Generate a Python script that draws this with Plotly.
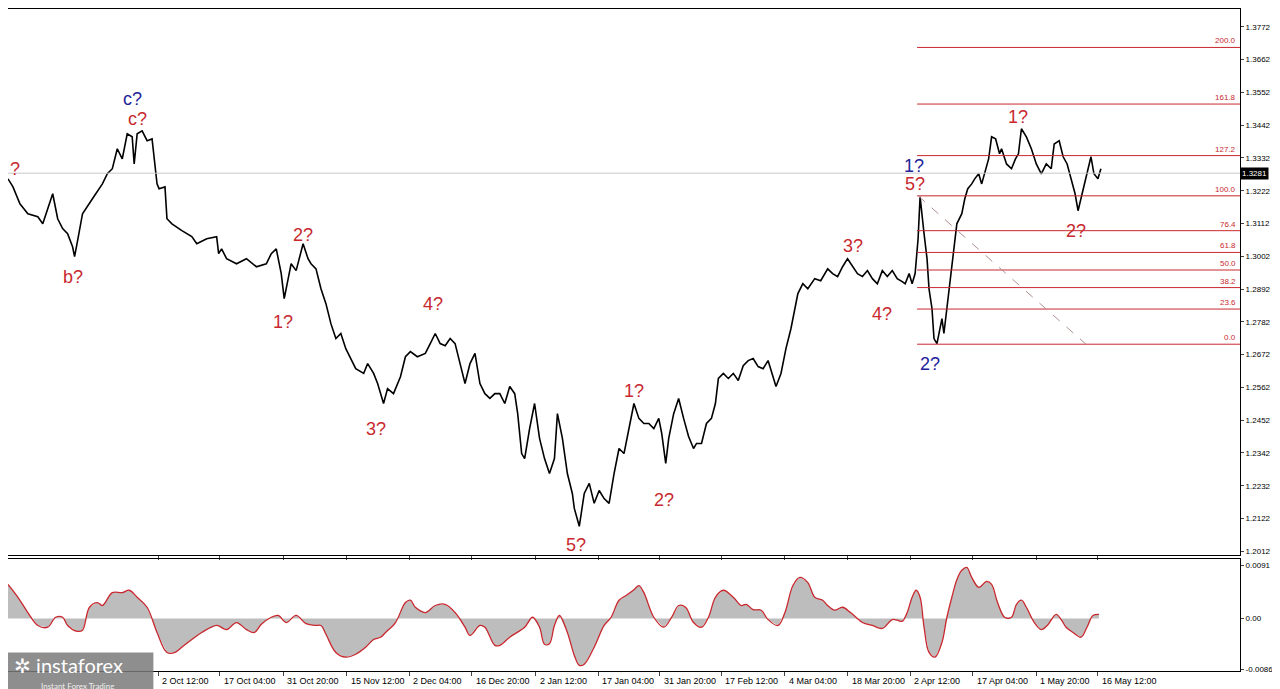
import plotly.graph_objects as go
from plotly.subplots import make_subplots

# price path (bar index, approx close)
bar_idx = [0, 5, 12, 20, 30, 35, 45, 50, 55, 60, 65, 67, 70, 75, 85, 95, 100, 105, 110, 115,
           120, 125, 127, 130, 135, 140, 145, 148, 150, 152, 158, 160, 165, 175, 185, 190, 200, 210, 212, 215,
           220, 230, 240, 250, 260, 265, 270, 275, 278, 282, 285, 290, 297, 302, 305, 310, 315, 320, 325, 330,
           335, 340, 345, 350, 358, 362, 368, 372, 378, 382, 388, 395, 400, 405, 412, 420, 425, 430, 435, 440,
           445, 450, 455, 460, 465, 470, 475, 480, 485, 490, 495, 500, 505, 510, 513, 517, 520, 525, 530, 535,
           540, 545, 550, 553, 558, 563, 568, 570, 575, 580, 585, 590, 595, 600, 605, 610, 615, 620, 625, 630,
           635, 640, 645, 650, 655, 658, 662, 665, 670, 675, 680, 685, 690, 693, 698, 703, 708, 712, 715, 720,
           725, 730, 735, 740, 745, 750, 755, 760, 765, 770, 773, 778, 783, 788, 792, 795, 800, 805, 812, 818,
           825, 830, 835, 840, 845, 850, 855, 860, 865, 870, 875, 880, 885, 890, 895, 900, 903, 907, 910, 913,
           916, 918, 920, 922, 925, 927, 930, 932, 935, 938, 940, 942, 945, 948, 952, 955, 960, 963, 966, 970,
           973, 977, 980, 983, 987, 990, 994, 998, 1000, 1005, 1010, 1014, 1017, 1020, 1025, 1030, 1035, 1040, 1045, 1050,
           1053, 1058, 1062, 1066, 1070, 1074, 1077, 1080, 1083, 1087, 1090, 1093, 1097, 1100]
close = [1.3262, 1.3235, 1.3178, 1.3145, 1.3135, 1.3111, 1.3212, 1.3128, 1.3095, 1.3078, 1.3034, 1.3001, 1.3054, 1.3145, 1.3195, 1.3245, 1.3279, 1.3296, 1.3363, 1.3329,
         1.3413, 1.3403, 1.3312, 1.3413, 1.3423, 1.3390, 1.3396, 1.3296, 1.3245, 1.3229, 1.3235, 1.3128, 1.3111, 1.3088, 1.3068, 1.3044, 1.3061, 1.3068, 1.3011, 1.3027,
         1.2994, 1.2977, 1.2994, 1.2967, 1.2977, 1.3011, 1.3027, 1.2944, 1.2860, 1.2927, 1.2977, 1.2954, 1.3044, 1.2994, 1.2977, 1.2960, 1.2893, 1.2843, 1.2776, 1.2726,
         1.2743, 1.2692, 1.2659, 1.2625, 1.2609, 1.2642, 1.2609, 1.2575, 1.2508, 1.2558, 1.2541, 1.2598, 1.2665, 1.2682, 1.2665, 1.2676, 1.2709, 1.2743, 1.2709, 1.2702,
         1.2726, 1.2709, 1.2642, 1.2575, 1.2642, 1.2676, 1.2575, 1.2541, 1.2525, 1.2541, 1.2541, 1.2508, 1.2565, 1.2541, 1.2474, 1.2340, 1.2323, 1.2424, 1.2508, 1.2391,
         1.2323, 1.2273, 1.2323, 1.2474, 1.2391, 1.2273, 1.2206, 1.2156, 1.2096, 1.2206, 1.2240, 1.2173, 1.2216, 1.2189, 1.2173, 1.2273, 1.2357, 1.2340, 1.2424, 1.2508,
         1.2458, 1.2441, 1.2441, 1.2424, 1.2458, 1.2407, 1.2307, 1.2391, 1.2474, 1.2525, 1.2458, 1.2397, 1.2357, 1.2374, 1.2374, 1.2441, 1.2458, 1.2508, 1.2592, 1.2609,
         1.2592, 1.2609, 1.2585, 1.2635, 1.2652, 1.2659, 1.2632, 1.2625, 1.2652, 1.2592, 1.2565, 1.2609, 1.2692, 1.2759, 1.2826, 1.2877, 1.2910, 1.2893, 1.2927, 1.2920,
         1.2960, 1.2944, 1.2934, 1.2967, 1.2994, 1.2971, 1.2944, 1.2934, 1.2954, 1.2927, 1.2910, 1.2954, 1.2934, 1.2954, 1.2927, 1.2917, 1.2910, 1.2944, 1.2910, 1.2944,
         1.3061, 1.3202, 1.3128, 1.3078, 1.2994, 1.2893, 1.2826, 1.2726, 1.2709, 1.2759, 1.2793, 1.2743, 1.2826, 1.2910, 1.3011, 1.3111, 1.3145, 1.3195, 1.3229, 1.3245,
         1.3262, 1.3279, 1.3245, 1.3279, 1.3329, 1.3403, 1.3396, 1.3346, 1.3363, 1.3312, 1.3296, 1.3329, 1.3346, 1.3430, 1.3403, 1.3363, 1.3312, 1.3279, 1.3312, 1.3296,
         1.3379, 1.3390, 1.3336, 1.3312, 1.3262, 1.3212, 1.3155, 1.3195, 1.3235, 1.3296, 1.3336, 1.3279, 1.3262, 1.3296, 1.3322]

# oscillator (bar index, value)
osc_idx = [0, 10, 20, 30, 40, 48, 55, 60, 70, 75, 82, 90, 95, 105, 115, 122, 130, 140, 150, 160,
           168, 175, 185, 195, 210, 220, 230, 240, 248, 255, 265, 272, 280, 290, 300, 310, 315, 320, 330, 340,
           350, 360, 368, 375, 380, 390, 400, 405, 410, 420, 430, 440, 450, 460, 465, 475, 480, 490, 495, 505,
           520, 528, 535, 540, 545, 550, 555, 563, 570, 575, 580, 590, 600, 607, 615, 622, 630, 635, 640, 642,
           650, 660, 668, 675, 682, 690, 698, 705, 712, 720, 730, 738, 743, 750, 758, 765, 775, 782, 790, 797,
           805, 812, 820, 825, 832, 840, 848, 860, 870, 880, 890, 895, 900, 905, 910, 914, 918, 922, 927, 933,
           940, 945, 950, 955, 960, 965, 970, 977, 985, 990, 996, 1003, 1010, 1015, 1020, 1025, 1033, 1040, 1046, 1055,
           1060, 1065, 1072, 1080, 1086, 1092, 1098]
osc = [0.0058, 0.0036, 0.0010, -0.0012, -0.0015, 0.0002, 0.0002, -0.0012, -0.0022, -0.0020, 0.0019, 0.0027, 0.0022, 0.0044, 0.0044, 0.0048, 0.0036, 0.0019, -0.0024, -0.0058,
       -0.0058, -0.0049, -0.0036, -0.0024, -0.0012, -0.0019, -0.0007, -0.0019, -0.0024, -0.0010, 0.0002, 0.0005, -0.0007, 0.0005, -0.0009, -0.0012, -0.0012, -0.0027, -0.0058, -0.0066,
       -0.0061, -0.0049, -0.0036, -0.0032, -0.0024, -0.0007, 0.0027, 0.0031, 0.0019, 0.0010, 0.0022, 0.0024, 0.0010, -0.0015, -0.0029, -0.0012, -0.0015, -0.0046, -0.0046, -0.0032,
       -0.0015, 0.0002, -0.0015, -0.0044, -0.0043, -0.0012, 0.0005, -0.0024, -0.0063, -0.0080, -0.0078, -0.0049, -0.0012, 0.0002, 0.0031, 0.0039, 0.0049, 0.0056, 0.0044, 0.0036,
       0.0002, -0.0015, 0.0002, 0.0022, 0.0019, -0.0007, -0.0015, 0.0002, 0.0036, 0.0048, 0.0036, 0.0022, 0.0024, 0.0015, 0.0014, -0.0002, -0.0012, 0.0010, 0.0056, 0.0070,
       0.0061, 0.0036, 0.0031, 0.0022, 0.0014, 0.0019, 0.0010, -0.0007, -0.0012, -0.0017, -0.0002, -0.0003, -0.0005, 0.0010, 0.0036, 0.0048, 0.0036, -0.0015, -0.0058, -0.0066,
       -0.0041, 0.0002, 0.0036, 0.0066, 0.0082, 0.0087, 0.0070, 0.0053, 0.0063, 0.0058, 0.0027, 0.0002, 0.0002, 0.0024, 0.0031, 0.0019, -0.0007, -0.0019, -0.0012, 0.0007,
       -0.0002, -0.0015, -0.0024, -0.0032, -0.0015, 0.0005, 0.0007]

fib_labels = ["0.0", "23.6", "38.2", "50.0", "61.8", "76.4", "100.0", "127.2", "161.8", "200.0"]
fib_levels = [1.2707, 1.2825, 1.2897, 1.2956, 1.3015, 1.3088, 1.3205, 1.3340, 1.3513, 1.3703]

price_ticks = [1.2012, 1.2122, 1.2232, 1.2342, 1.2452, 1.2562, 1.2672, 1.2782, 1.2892, 1.3002,
               1.3112, 1.3222, 1.3332, 1.3442, 1.3552, 1.3662, 1.3772]
osc_ticks = [-0.00862, 0.0, 0.0091]
osc_tick_text = ["-0.00862", "0.00", "0.0091"]

date_pos = [151, 213, 277, 341, 404, 467, 531, 594, 656, 718, 782, 845, 908, 971, 1035, 1097]
date_text = ["2 Oct 12:00", "17 Oct 04:00", "31 Oct 20:00", "15 Nov 12:00", "2 Dec 04:00",
             "16 Dec 20:00", "2 Jan 12:00", "17 Jan 04:00", "31 Jan 20:00", "17 Feb 12:00", "4 Mar 04:00",
             "18 Mar 20:00", "2 Apr 12:00", "17 Apr 04:00", "1 May 20:00", "16 May 12:00"]

last_price = 1.3281

# wave labels: (text, bar, price, colour)
waves = [("?", 7, 1.3296, "red"), ("c?", 125, 1.3530, "blue"), ("c?", 130, 1.3462, "red"),
         ("b?", 65, 1.2934, "red"), ("2?", 297, 1.3074, "red"), ("1?", 277, 1.2783, "red"),
         ("3?", 370, 1.2424, "red"), ("4?", 428, 1.2843, "red"), ("5?", 572, 1.2032, "red"),
         ("1?", 630, 1.2551, "red"), ("2?", 660, 1.2183, "red"), ("3?", 850, 1.3037, "red"),
         ("4?", 880, 1.2810, "red"), ("1?", 912, 1.3306, "blue"), ("5?", 913, 1.3245, "red"),
         ("2?", 928, 1.2642, "blue"), ("1?", 1017, 1.3470, "red"), ("2?", 1075, 1.3088, "red")]

RED = "#c8282e"
BLUE = "#22229a"

fig = make_subplots(rows=2, cols=1, shared_xaxes=True, row_heights=[0.83, 0.17], vertical_spacing=0.006)

fig.add_trace(go.Scatter(x=bar_idx, y=close, mode="lines", line=dict(color="black", width=1.6),
                         showlegend=False, hoverinfo="skip"), row=1, col=1)
fig.add_trace(go.Scatter(x=osc_idx, y=osc, mode="lines", line=dict(color="rgba(0,0,0,0)"), fill="tozeroy",
                         fillcolor="#bdbdbd", showlegend=False, hoverinfo="skip"), row=2, col=1)
fig.add_trace(go.Scatter(x=osc_idx, y=osc, mode="lines", line=dict(color=RED, width=1.3, shape="spline"),
                         showlegend=False, hoverinfo="skip"), row=2, col=1)

# current price line
fig.add_hline(y=last_price, line=dict(color="#c8c8c8", width=1), row=1, col=1)
# fibonacci grid
for lab, lv in zip(fib_labels, fib_levels):
    fig.add_shape(type="line", x0=915, x1=1240, y0=lv, y1=lv, line=dict(color=RED, width=1), row=1, col=1)
    fig.add_annotation(x=1238, y=lv, text=lab, showarrow=False, xanchor="right", yanchor="bottom",
                       font=dict(size=8, color=RED, family="Liberation Sans"), row=1, col=1)
fig.add_shape(type="line", x0=916, x1=1085, y0=fib_levels[6], y1=fib_levels[0],
              line=dict(color="#b09090", width=1, dash="dash"), row=1, col=1)

for txt, bx, py, c in waves:
    fig.add_annotation(x=bx, y=py, text=txt, showarrow=False,
                       font=dict(size=18, color=RED if c == "red" else BLUE, family="Liberation Sans"),
                       row=1, col=1)

fig.add_annotation(x=1.0, xref="paper", y=last_price, yref="y", text="1.3281", showarrow=False,
                   xanchor="left", bgcolor="black", font=dict(size=8, color="white", family="Liberation Sans"))

for p, t in zip(date_pos, date_text):
    fig.add_annotation(x=p + 2, y=-0.005, yref="paper", text=t, showarrow=False, xanchor="left", yanchor="top",
                       font=dict(size=9, color="black", family="Liberation Sans"))

# logo
fig.add_shape(type="rect", xref="paper", yref="paper", x0=0, x1=0.118, y0=-0.039, y1=0.028,
              fillcolor="#7a7a7a", opacity=0.85, line=dict(width=0))
fig.add_annotation(xref="paper", yref="paper", x=0.003, y=0.03, text="✲ instaforex", showarrow=False,
                   xanchor="left", yanchor="top", font=dict(size=20, color="white", family="Lato"))
fig.add_annotation(xref="paper", yref="paper", x=0.025, y=-0.012, text="Instant Forex Trading", showarrow=False,
                   xanchor="left", yanchor="top", font=dict(size=8, color="#eeeeee", family="Lato"))

axis_font = dict(size=8, color="black", family="Liberation Sans")
fig.update_xaxes(range=[0, 1240], showgrid=False, zeroline=False, showticklabels=False,
                 tickvals=date_pos, ticks="outside", ticklen=4, showline=True, linecolor="black", mirror=True)
fig.update_yaxes(side="right", showgrid=False, zeroline=False, ticks="outside", ticklen=3,
                 showline=True, linecolor="black", tickfont=axis_font)
fig.update_yaxes(range=[1.1999, 1.3832], tickvals=price_ticks, tickformat=".4f", row=1, col=1)
fig.update_yaxes(range=[-0.00896, 0.0101], tickvals=osc_ticks, ticktext=osc_tick_text, row=2, col=1)

fig.update_layout(width=1280, height=689, margin=dict(l=0, r=48, t=1, b=26),
                  paper_bgcolor="white", plot_bgcolor="white", showlegend=False)

fig.write_html("out.html")
